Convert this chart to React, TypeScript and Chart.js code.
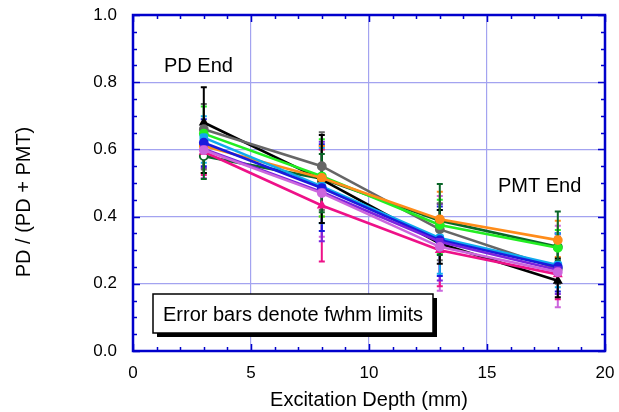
import React, { useEffect, useRef } from 'react';
import { Chart, registerables } from 'chart.js';

Chart.register(...registerables);

// ---- Data ----
const depths = [3, 8, 13, 18];

const blackValues = [0.68, 0.51, 0.32, 0.209];
const blackUpper = [0.785, 0.643, 0.42, 0.275];
const blackLower = [0.53, 0.381, 0.26, 0.16];

const grayValues = [0.66, 0.55, 0.362, 0.245];
const grayUpper = [0.735, 0.651, 0.44, 0.34];
const grayLower = [0.54, 0.42, 0.27, 0.2];

const limeValues = [0.647, 0.52, 0.375, 0.307];
const limeUpper = [0.728, 0.63, 0.45, 0.36];
const limeLower = [0.53, 0.4, 0.29, 0.26];

const orangeValues = [0.61, 0.515, 0.392, 0.33];
const orangeUpper = [0.68, 0.61, 0.474, 0.388];
const orangeLower = [0.53, 0.4, 0.3, 0.28];

const darkGreenValues = [0.58, 0.513, 0.388, 0.31];
const darkGreenUpper = [0.65, 0.586, 0.497, 0.415];
const darkGreenLower = [0.512, 0.413, 0.286, 0.27];

const blueValues = [0.62, 0.485, 0.33, 0.25];
const blueUpper = [0.69, 0.615, 0.43, 0.35];
const blueLower = [0.55, 0.357, 0.223, 0.177];

const skyValues = [0.635, 0.49, 0.336, 0.256];
const skyUpper = [0.699, 0.605, 0.42, 0.35];
const skyLower = [0.56, 0.38, 0.23, 0.19];

const purpleValues = [0.601, 0.473, 0.325, 0.241];
const purpleUpper = [0.67, 0.623, 0.4375, 0.35];
const purpleLower = [0.545, 0.327, 0.21, 0.17];

const pinkValues = [0.593, 0.433, 0.3, 0.228];
const pinkUpper = [0.66, 0.6, 0.4, 0.34];
const pinkLower = [0.524, 0.266, 0.193, 0.154];

const orchidValues = [0.598, 0.47, 0.31, 0.235];
const orchidUpper = [0.66, 0.61, 0.461, 0.373];
const orchidLower = [0.515, 0.34, 0.179, 0.13];

const xTickValues = [0, 5, 10, 15, 20];
const yTickValues = [0, 0.2, 0.4, 0.6, 0.8, 1.0];

const xTitle = 'Excitation Depth (mm)';
const yTitle = 'PD / (PD + PMT)';
const pdLabel = 'PD End';
const pmtLabel = 'PMT End';
const noteLabel = 'Error bars denote fwhm limits';

const FONT = '"Liberation Sans", Arial, Helvetica, sans-serif';

const seriesTable = [
  { name: 'orchid', values: orchidValues, upper: orchidUpper, lower: orchidLower, color: '#cc66dd', style: 'circle', fill: '#cc66dd' },
  { name: 'pink', values: pinkValues, upper: pinkUpper, lower: pinkLower, color: '#ee1188', style: 'triangle', fill: '#ee1188' },
  { name: 'purple', values: purpleValues, upper: purpleUpper, lower: purpleLower, color: '#7a22dd', style: 'rect', fill: '#7a22dd' },
  { name: 'blue', values: blueValues, upper: blueUpper, lower: blueLower, color: '#1a1add', style: 'circle', fill: '#1a1add' },
  { name: 'sky', values: skyValues, upper: skyUpper, lower: skyLower, color: '#11aaee', style: 'rectRounded', fill: '#11aaee' },
  { name: 'orange', values: orangeValues, upper: orangeUpper, lower: orangeLower, color: '#ff8c1a', style: 'circle', fill: '#ff8c1a' },
  { name: 'lime', values: limeValues, upper: limeUpper, lower: limeLower, color: '#22ee22', style: 'circle', fill: '#22ee22' },
  { name: 'gray', values: grayValues, upper: grayUpper, lower: grayLower, color: '#666666', style: 'circle', fill: '#666666' },
  { name: 'black', values: blackValues, upper: blackUpper, lower: blackLower, color: '#000000', style: 'triangle', fill: '#000000' },
  { name: 'darkGreen', values: darkGreenValues, upper: darkGreenUpper, lower: darkGreenLower, color: '#0a6628', style: 'circle', fill: '#ffffff' },
];

const isMajorX = (v: number) => Math.round(v) % 5 === 0;
const isMajorY = (v: number) => Math.round(v * 20) % 4 === 0;

const zeroPad = (s: any) => {
  s.paddingTop = 0;
  s.paddingBottom = 0;
  s.paddingLeft = 0;
  s.paddingRight = 0;
};

const decorPlugin = {
  id: 'decor',
  beforeDatasetsDraw(chart: any) {
    const { ctx, scales } = chart;
    const x = scales.x;
    const y = scales.y;
    chart.data.datasets.forEach((ds: any) => {
      ctx.save();
      ctx.strokeStyle = ds.borderColor;
      ctx.lineWidth = 2;
      ds.data.forEach((p: any, i: number) => {
        const px = x.getPixelForValue(p.x);
        const top = y.getPixelForValue(ds.upper[i]);
        const bot = y.getPixelForValue(ds.lower[i]);
        ctx.beginPath();
        ctx.moveTo(px, top);
        ctx.lineTo(px, bot);
        ctx.moveTo(px - 3, top);
        ctx.lineTo(px + 3, top);
        ctx.moveTo(px - 3, bot);
        ctx.lineTo(px + 3, bot);
        ctx.stroke();
      });
      ctx.restore();
    });
  },
  afterDraw(chart: any) {
    const { ctx, chartArea, scales } = chart;
    const x = scales.x;
    const y = scales.y;
    const { left, right, top, bottom } = chartArea;
    ctx.save();
    // inward tick marks
    ctx.strokeStyle = '#0000cc';
    ctx.lineWidth = 1.5;
    x.ticks.forEach((t: any) => {
      const px = Math.round(x.getPixelForValue(t.value)) + 0.5;
      const len = isMajorX(t.value) ? 7 : 4;
      ctx.beginPath();
      ctx.moveTo(px, bottom);
      ctx.lineTo(px, bottom - len);
      ctx.moveTo(px, top);
      ctx.lineTo(px, top + len);
      ctx.stroke();
    });
    y.ticks.forEach((t: any) => {
      const py = Math.round(y.getPixelForValue(t.value)) + 0.5;
      const len = isMajorY(t.value) ? 7 : 4;
      ctx.beginPath();
      ctx.moveTo(left, py);
      ctx.lineTo(left + len, py);
      ctx.moveTo(right, py);
      ctx.lineTo(right - len, py);
      ctx.stroke();
    });
    // frame
    ctx.lineWidth = 2.5;
    ctx.strokeRect(left, top, right - left, bottom - top);

    // axis titles
    ctx.fillStyle = '#000';
    ctx.font = `20px ${FONT}`;
    ctx.textAlign = 'center';
    ctx.textBaseline = 'middle';
    ctx.fillText(xTitle, (left + right) / 2, 400);
    ctx.save();
    ctx.translate(24, 202);
    ctx.rotate(-Math.PI / 2);
    ctx.fillText(yTitle, 0, 0);
    ctx.restore();

    // annotations
    ctx.textAlign = 'left';
    ctx.textBaseline = 'alphabetic';
    ctx.fillText(pdLabel, 164, 72);
    ctx.fillText(pmtLabel, 498, 192);

    // note box with shadow
    const bx = 153, by = 294, bw = 280, bh = 39;
    ctx.fillStyle = '#000';
    ctx.fillRect(bx + 4, by + 4, bw, bh);
    ctx.fillStyle = '#fff';
    ctx.fillRect(bx, by, bw, bh);
    ctx.strokeStyle = '#000';
    ctx.lineWidth = 1.5;
    ctx.strokeRect(bx, by, bw, bh);
    ctx.fillStyle = '#000';
    ctx.fillText(noteLabel, 163, 321);
    ctx.restore();
  },
};

export default function App() {
  const canvasRef = useRef<HTMLCanvasElement | null>(null);

  useEffect(() => {
    document.body.style.margin = '0';
    const canvas = canvasRef.current;
    if (!canvas) return;
    const datasets = seriesTable.map((s) => ({
      label: s.name,
      data: depths.map((d, i) => ({ x: d, y: s.values[i] })),
      upper: s.upper,
      lower: s.lower,
      borderColor: s.color,
      backgroundColor: s.fill,
      pointBackgroundColor: s.fill,
      pointBorderColor: s.color,
      pointStyle: s.style,
      pointRadius: 4,
      pointBorderWidth: 1.8,
      borderWidth: 2.6,
      tension: 0,
      fill: false,
    }));
    const chart = new Chart(canvas, {
      type: 'line',
      data: { datasets: datasets as any },
      options: {
        responsive: false,
        animation: false,
        devicePixelRatio: 1,
        layout: { padding: { top: 15, right: 14, left: 0, bottom: 0 } },
        plugins: { legend: { display: false }, tooltip: { enabled: false } },
        scales: {
          x: {
            type: 'linear',
            min: 0,
            max: 20,
            border: { display: false },
            grid: {
              drawTicks: false,
              color: (c: any) => (c.tick && isMajorX(c.tick.value) ? '#a3a3f0' : 'rgba(0,0,0,0)'),
              lineWidth: 1.2,
            },
            ticks: {
              stepSize: 1,
              autoSkip: false,
              maxRotation: 0,
              padding: 12,
              color: '#000',
              font: { family: FONT, size: 17 },
              callback: (v: any) => (xTickValues.includes(Math.round(Number(v))) && isMajorX(Number(v)) ? String(Math.round(Number(v))) : ''),
            },
            afterFit: (s: any) => { s.height = 61; zeroPad(s); },
          },
          y: {
            type: 'linear',
            min: 0,
            max: 1,
            border: { display: false },
            grid: {
              drawTicks: false,
              color: (c: any) => (c.tick && isMajorY(c.tick.value) ? '#a3a3f0' : 'rgba(0,0,0,0)'),
              lineWidth: 1.2,
            },
            ticks: {
              stepSize: 0.05,
              autoSkip: false,
              padding: 16,
              color: '#000',
              font: { family: FONT, size: 17 },
              callback: (v: any) => {
                const n = Number(v);
                const hit = yTickValues.find((t) => Math.abs(t - n) < 1e-6);
                return hit !== undefined ? hit.toFixed(1) : '';
              },
            },
            afterFit: (s: any) => { s.width = 133; zeroPad(s); },
          },
        },
      },
      plugins: [decorPlugin],
    });
    return () => chart.destroy();
  }, []);

  return (
    <div style={{ width: 619, height: 412, background: '#fff' }}>
      <canvas ref={canvasRef} width={619} height={412} style={{ display: 'block', width: 619, height: 412 }} />
    </div>
  );
}
